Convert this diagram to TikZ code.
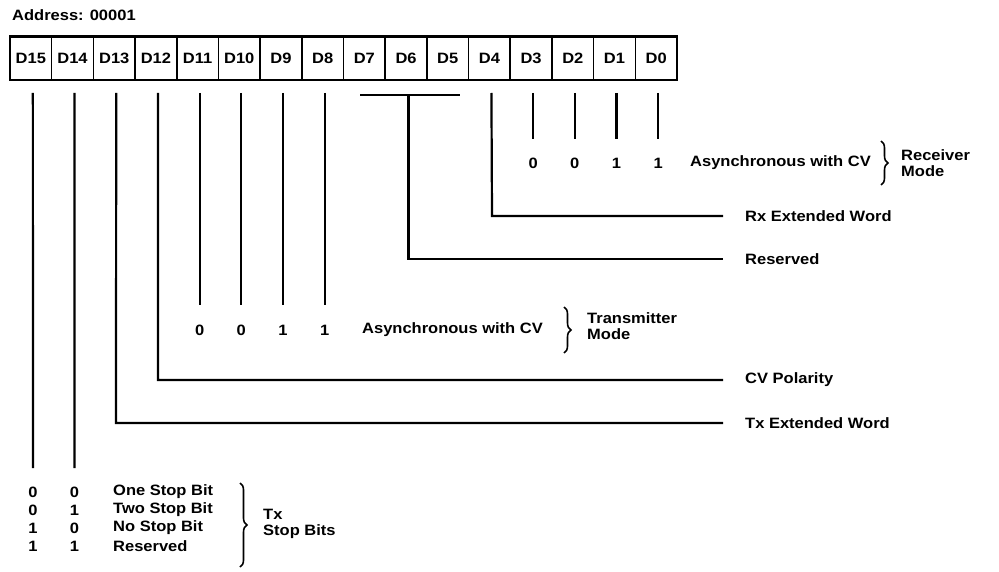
\documentclass[tikz,border=0pt]{standalone}
\usepackage{fontspec}
\usepackage{graphicx}
\setmainfont{Liberation Sans}
\newcommand{\wide}[1]{\scalebox{1.1}[1]{#1}}
\usetikzlibrary{decorations.pathreplacing}
\begin{document}
\begin{tikzpicture}[x=1pt,y=-1pt,
  txt/.style={font=\fontsize{15}{17}\selectfont\bfseries, inner sep=0pt},
  lbl/.style={txt, anchor=west},
  cell/.style={txt, draw, line width=1.6pt, minimum width=41.69pt, minimum height=43pt},
  wire/.style={line width=2.2pt},
  brc/.style={decorate, decoration={brace, amplitude=7pt}, line width=1.6pt}]
\useasboundingbox (0,0) rectangle (999,572);
\node[lbl] (addr) at (12,15) {\wide{Address: 00001}};
% register cells
\foreach \i in {0,...,15}{
  \pgfmathsetmacro\cx{10+41.69*(15.5-\i)}
  \node[cell] (d\i) at (\cx,58.5) {\wide{D\i}};
  \coordinate (w\i) at (\cx+2,93);
}
\draw[line width=3pt] (d15.north west) -- (d0.north east);
% D3..D0 : receiver mode
\foreach \i/\v in {3/0,2/0,1/1,0/1}{
  \pgfmathsetmacro\cx{10+41.69*(15.5-\i)+2}
  \coordinate (u\i) at (\cx,139);
  \node[txt] (r\i) at (\cx,163) {\wide{\v}};
  \draw[wire] (w\i) -- (u\i);
}
\node[lbl] (rxmode) at (690,163) {\wide{Asynchronous with CV}};
\draw[brc] (881,141) -- (881,185);
\node[lbl, align=left] (rxm) at (901,163) {\wide{Receiver}\\[-1pt]\wide{Mode}};
% D4
\coordinate (k4) at (492,216);
\node[lbl] (rxext) at (745,216) {\wide{Rx Extended Word}};
\draw[wire] (w4) -- (k4) -- ([xshift=-22pt]rxext.west);
% D7..D5
\coordinate (b7) at (360,95);
\coordinate (b5) at (460,95);
\coordinate (b6) at (408.5,95);
\coordinate (k6) at (408.5,259);
\node[lbl] (res) at (745,259) {\wide{Reserved}};
\draw[wire] (b7) -- (b5);
\draw[wire] (b6) -- (k6) -- ([xshift=-22pt]res.west);
% D11..D8 : transmitter mode
\foreach \i/\v in {11/0,10/0,9/1,8/1}{
  \pgfmathsetmacro\cx{10+41.69*(15.5-\i)+2}
  \coordinate (u\i) at (\cx,305);
  \node[txt] (t\i) at (\cx,330) {\wide{\v}};
  \draw[wire] (w\i) -- (u\i);
}
\node[lbl] (txmode) at (362,330) {\wide{Asynchronous with CV}};
\draw[brc] (564,307) -- (564,353);
\node[lbl, align=left] (txm) at (587,326) {\wide{Transmitter}\\[-1pt]\wide{Mode}};
% D12
\coordinate (k12) at (158,380);
\node[lbl] (cvp) at (745,380) {\wide{CV Polarity}};
\draw[wire] (w12) -- (k12) -- ([xshift=-22pt]cvp.west);
% D13
\coordinate (k13) at (116,423);
\node[lbl] (txext) at (745,423) {\wide{Tx Extended Word}};
\draw[wire] (w13) -- (k13) -- ([xshift=-22pt]txext.west);
% D15, D14 : stop bits
\coordinate (u15) at (33,468);
\coordinate (u14) at (74.5,468);
\draw[wire] (w15) -- (u15);
\draw[wire] (w14) -- (u14);
\foreach \n/\y/\a/\b/\t in {1/492/0/0/One Stop Bit,2/510/0/1/Two Stop Bit,3/528/1/0/No Stop Bit,4/546/1/1/Reserved}{
  \node[txt] (sa\n) at (33,\y) {\wide{\a}};
  \node[txt] (sb\n) at (74.5,\y) {\wide{\b}};
  \node[lbl] (st\n) at (113,\y) {\wide{\t}};
}
\draw[brc] (240,483) -- (240,567);
\node[lbl, align=left] (txsb) at (263,524) {\wide{Tx}\\[-1pt]\wide{Stop Bits}};
\end{tikzpicture}
\end{document}
